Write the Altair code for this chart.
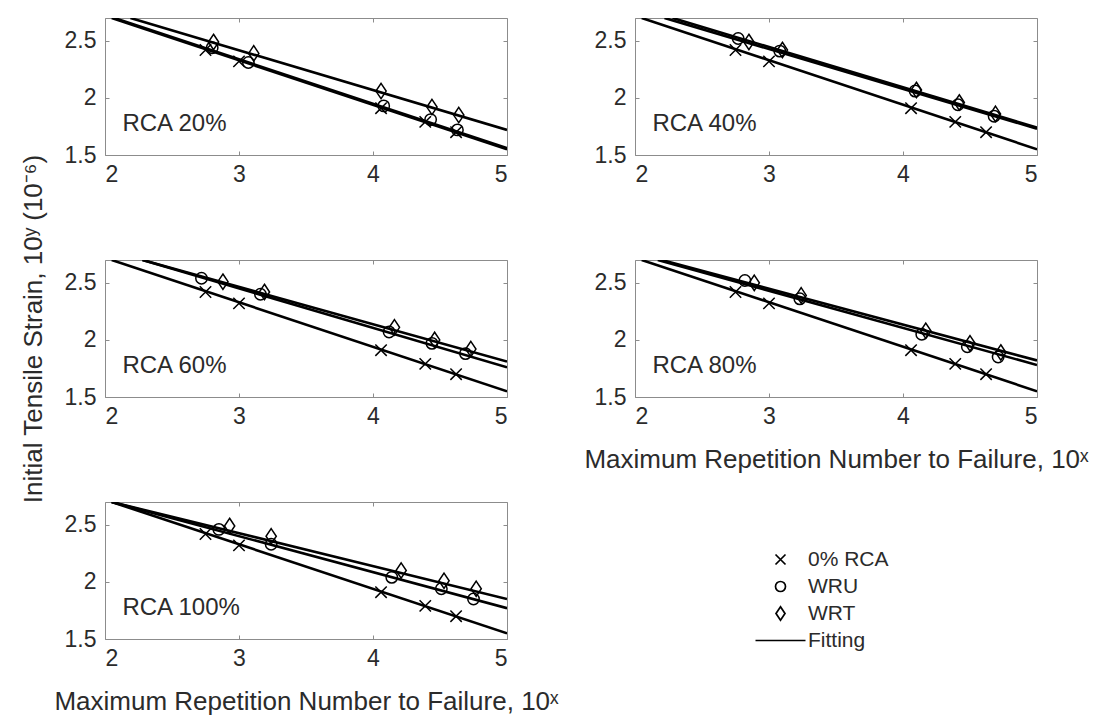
import altair as alt
import pandas as pd

# ---------------- data ----------------
panels = ["RCA 20%", "RCA 40%", "RCA 60%", "RCA 80%", "RCA 100%"]
series_names = ["0% RCA", "WRU", "WRT", "Fitting"]

# 0% RCA reference points (same in every panel)
ref_x = [2.75, 3.00, 4.06, 4.39, 4.62]
ref_y = [2.42, 2.32, 1.91, 1.79, 1.70]

# WRU points per panel
wru_x = [[2.80, 3.07, 4.08, 4.43, 4.63],
         [2.77, 3.08, 4.09, 4.41, 4.68],
         [2.72, 3.16, 4.12, 4.44, 4.69],
         [2.82, 3.23, 4.14, 4.48, 4.71],
         [2.85, 3.24, 4.14, 4.51, 4.75]]
wru_y = [[2.44, 2.31, 1.93, 1.81, 1.72],
         [2.52, 2.41, 2.06, 1.94, 1.84],
         [2.54, 2.40, 2.07, 1.97, 1.88],
         [2.52, 2.36, 2.05, 1.94, 1.85],
         [2.46, 2.33, 2.04, 1.94, 1.85]]

# WRT points per panel
wrt_x = [[2.81, 3.11, 4.06, 4.44, 4.64],
         [2.85, 3.10, 4.10, 4.42, 4.69],
         [2.88, 3.19, 4.16, 4.46, 4.73],
         [2.89, 3.24, 4.17, 4.50, 4.73],
         [2.93, 3.24, 4.21, 4.53, 4.77]]
wrt_y = [[2.49, 2.39, 2.06, 1.92, 1.85],
         [2.49, 2.42, 2.07, 1.96, 1.86],
         [2.51, 2.42, 2.11, 2.00, 1.92],
         [2.50, 2.39, 2.08, 1.97, 1.89],
         [2.49, 2.40, 2.10, 2.01, 1.94]]

# fitted lines: start (x at top of axes) and end (x = 5)
ref_fit_x = [2.05, 5.0]
ref_fit_y = [2.70, 1.55]
wru_fit_x = [[2.07, 5.0], [2.22, 5.0], [2.28, 5.0], [2.17, 5.0], [2.05, 5.0]]
wru_fit_y = [[2.70, 1.56], [2.70, 1.73], [2.70, 1.76], [2.70, 1.78], [2.70, 1.77]]
wrt_fit_x = [[2.19, 5.0], [2.28, 5.0], [2.28, 5.0], [2.20, 5.0], [2.05, 5.0]]
wrt_fit_y = [[2.70, 1.72], [2.70, 1.74], [2.70, 1.81], [2.70, 1.82], [2.70, 1.85]]

label_x = 2.13
label_y = 1.77

x_ticks = [2, 3, 4, 5]
y_ticks = [1.5, 2, 2.5]

x_title = "Maximum Repetition Number to Failure, 10\u02e3"
y_title = "Initial Tensile Strain, 10\u02b8 (10\u207b\u2076)"

# ---------------- build tables ----------------
pt_rows, ln_rows = [], []
for i, p in enumerate(panels):
    for x, y in zip(ref_x, ref_y):
        pt_rows.append(dict(panel=p, series="0% RCA", x=x, y=y))
    for x, y in zip(wru_x[i], wru_y[i]):
        pt_rows.append(dict(panel=p, series="WRU", x=x, y=y))
    for x, y in zip(wrt_x[i], wrt_y[i]):
        pt_rows.append(dict(panel=p, series="WRT", x=x, y=y))
    for x, y in zip(ref_fit_x, ref_fit_y):
        ln_rows.append(dict(panel=p, series="ref", x=x, y=y))
    for x, y in zip(wru_fit_x[i], wru_fit_y[i]):
        ln_rows.append(dict(panel=p, series="wru", x=x, y=y))
    for x, y in zip(wrt_fit_x[i], wrt_fit_y[i]):
        ln_rows.append(dict(panel=p, series="wrt", x=x, y=y))
pts_df = pd.DataFrame(pt_rows)
lns_df = pd.DataFrame(ln_rows)

FONT = "Liberation Sans"
TXT = "#2b2b2b"
FRAME = "#8c8c8c"

X_PATH = "M-1,-1L1,1M-1,1L1,-1"
D_PATH = "M0,-1.35L0.9,0L0,1.35L-0.9,0Z"
F_PATH = "M-5,0L5,0"
shape_scale = alt.Scale(domain=series_names, range=[X_PATH, "circle", D_PATH, F_PATH])

W, H = 402, 137
TK = 4  # inward tick length
xscale = alt.Scale(domain=[2, 5], nice=False, zero=False)
yscale = alt.Scale(domain=[1.5, 2.7], nice=False, zero=False)


def panel(i):
    p = panels[i]
    xt = x_title if i in (3, 4) else None
    yt = y_title if i == 2 else None
    # main axes (bottom / left): axis line moved inside so ticks point inward
    X = alt.X("x:Q", scale=xscale, title=xt,
              axis=alt.Axis(values=x_ticks, labelPadding=8, titlePadding=18,
                            offset=-TK, ticks=True, tickSize=TK, tickColor=FRAME))
    Y = alt.Y("y:Q", scale=yscale, title=yt,
              axis=alt.Axis(values=y_ticks, labelPadding=9, titlePadding=18,
                            labelExpr="'' + datum.value",
                            offset=-TK, ticks=True, tickSize=TK, tickColor=FRAME))
    # secondary axes (top / right): only inward ticks
    X2 = alt.X("x:Q", scale=xscale, title=None,
               axis=alt.Axis(values=x_ticks, labels=False, offset=-TK, ticks=True,
                             tickSize=TK, tickColor=FRAME))
    Y2 = alt.Y("y:Q", scale=yscale, title=None,
               axis=alt.Axis(values=y_ticks, labels=False, offset=-TK, ticks=True,
                             tickSize=TK, tickColor=FRAME))

    if i == 4:
        leg = alt.Legend(title=None, orient="none", legendX=665, legendY=47,
                         labelFontSize=21, labelFont=FONT, labelColor=TXT,
                         symbolSize=100, symbolStrokeWidth=1.7, symbolStrokeColor="black",
                         symbolFillColor="transparent", labelOffset=17, rowPadding=5,
                         padding=0)
    else:
        leg = None

    lines = alt.Chart(lns_df[lns_df.panel == p]).mark_line(
        color="black", strokeWidth=2.6, clip=True
    ).encode(x=X, y=Y, detail="series:N")

    lab = alt.Chart(pd.DataFrame({"x": [label_x], "y": [label_y], "t": [p]})).mark_text(
        align="left", baseline="middle", fontSize=24, font=FONT, color=TXT
    ).encode(x=X, y=Y, text="t:N")

    pts = alt.Chart(pts_df[pts_df.panel == p]).mark_point(
        filled=False, color="black", size=130, strokeWidth=1.5, opacity=1
    ).encode(x=X2, y=Y2, shape=alt.Shape("series:N", scale=shape_scale, legend=leg))

    base = alt.layer(lines, lab)
    return alt.layer(base, pts).resolve_axis(x="independent", y="independent").properties(
        width=W, height=H)


chart = alt.concat(
    *[panel(i) for i in range(5)], columns=2, spacing={"row": 105, "column": 128}, bounds="flush"
).resolve_scale(shape="independent").properties(
    padding={"left": 19, "top": 17, "right": 0, "bottom": 0},
    background="white",
).configure_view(
    stroke=FRAME, strokeWidth=1
).configure_axis(
    domain=False, ticks=False, grid=False,
    labelFont=FONT, labelFontSize=23, labelColor=TXT,
    titleFont=FONT, titleFontSize=26, titleFontWeight="normal", titleColor=TXT,
)

chart.save("out.html", embed_options={"renderer": "svg", "actions": False})
